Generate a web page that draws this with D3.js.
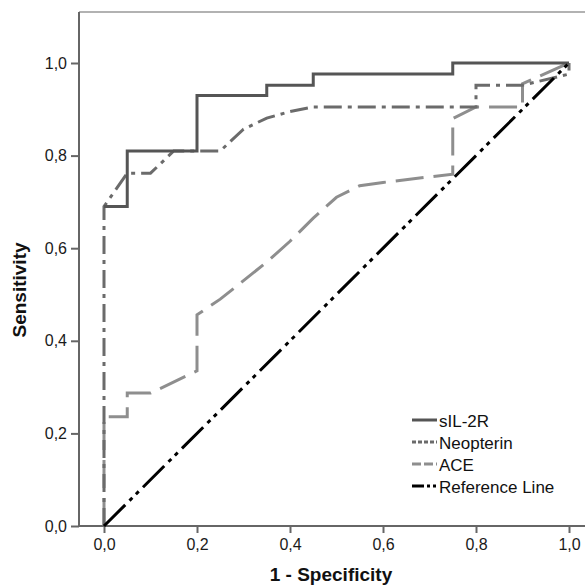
<!DOCTYPE html>
<html><head><meta charset="utf-8">
<script src="https://cdn.jsdelivr.net/npm/d3@7"></script>
<style>body{margin:0;background:#fff}svg{display:block}text{font-family:"Liberation Sans",Arial,sans-serif}</style>
</head><body><svg id="c" width="585" height="586"></svg>
<script>
const tickValues = [0, 0.2, 0.4, 0.6, 0.8, 1.0];
const seriesNames = ["sIL-2R", "Neopterin", "ACE", "Reference Line"];
const sIL2R_x = [0, 0.05, 0.05, 0.2, 0.2, 0.35, 0.35, 0.45, 0.45, 0.75, 0.75, 1.0];
const sIL2R_y = [0.69, 0.69, 0.81, 0.81, 0.93, 0.93, 0.952, 0.952, 0.976, 0.976, 1.0, 1.0];
const neo_x = [0, 0, 0.05, 0.1, 0.15, 0.25, 0.3, 0.35, 0.4, 0.45, 0.8, 0.8, 0.9, 1.0, 1.0];
const neo_y = [0, 0.69, 0.762, 0.762, 0.81, 0.81, 0.857, 0.881, 0.895, 0.905, 0.905, 0.952, 0.952, 0.976, 1.0];
const ace_x = [0, 0, 0.05, 0.05, 0.1, 0.2, 0.2, 0.25, 0.3, 0.35, 0.4, 0.45, 0.5, 0.55, 0.6, 0.75, 0.75, 0.8, 0.9, 0.9, 1.0];
const ace_y = [0, 0.236, 0.236, 0.287, 0.287, 0.335, 0.456, 0.49, 0.53, 0.57, 0.615, 0.665, 0.71, 0.735, 0.742, 0.76, 0.88, 0.905, 0.905, 0.955, 1.0];
const ref_x = [0, 1];
const ref_y = [0, 1];

const svg = d3.select("#c");
const x = d3.scaleLinear().domain([0, 1]).range([104, 569]);
const y = d3.scaleLinear().domain([0, 1]).range([526, 63]);
const fmt = v => d3.format(".1f")(v).replace(".", ",");
const frameL = 79, frameT = 12, frameR = 585, frameB = 526;

// frame
svg.append("line").attr("x1", frameL).attr("x2", frameR).attr("y1", frameT).attr("y2", frameT)
  .attr("stroke", "#999").attr("stroke-width", 1.5);
svg.append("line").attr("x1", frameL).attr("x2", frameL).attr("y1", frameT).attr("y2", frameB)
  .attr("stroke", "#666").attr("stroke-width", 2);
svg.append("line").attr("x1", frameL).attr("x2", frameR).attr("y1", frameB).attr("y2", frameB)
  .attr("stroke", "#666").attr("stroke-width", 2);

// axes
const gx = svg.append("g").attr("transform", `translate(0,${frameB})`)
  .call(d3.axisBottom(x).tickValues(tickValues).tickFormat(fmt).tickSize(7).tickPadding(6));
const gy = svg.append("g").attr("transform", `translate(${frameL},0)`)
  .call(d3.axisLeft(y).tickValues(tickValues).tickFormat(fmt).tickSize(8).tickPadding(4));
[gx, gy].forEach(g => {
  g.select(".domain").remove();
  g.selectAll(".tick line").attr("stroke", "#666").attr("stroke-width", 2);
  g.selectAll(".tick text").attr("fill", "#1a1a1a").style("font-size", "16px").style("font-family", '"Liberation Sans",Arial,sans-serif');
});

// titles
svg.append("text").attr("x", 331).attr("y", 581).attr("text-anchor", "middle")
  .style("font-size", "19px").style("font-weight", "bold").attr("fill", "#111").text("1 - Specificity");
svg.append("text").attr("transform", "translate(26,290) rotate(-90)").attr("text-anchor", "middle")
  .style("font-size", "19px").style("font-weight", "bold").attr("fill", "#111").text("Sensitivity");

// curves
const line = d3.line().x(d => x(d[0])).y(d => y(d[1]));
const zip = (a, b) => a.map((v, i) => [v, b[i]]);
const series = [
  {name: "ACE", pts: zip(ace_x, ace_y), color: "#8e8e8e", dash: "28,10", ldash: "9,3"},
  {name: "Neopterin", pts: zip(neo_x, neo_y), color: "#6b6b6b", dash: "18,6,4,6", ldash: "4,2"},
  {name: "sIL-2R", pts: zip(sIL2R_x, sIL2R_y), color: "#555", dash: null, ldash: null},
  {name: "Reference Line", pts: zip(ref_x, ref_y), color: "#000", dash: "30,6,4,5,4,6", ldash: "12,3,3,3,3"}
];
series.forEach(s => {
  svg.append("path").datum(s.pts).attr("d", line).attr("fill", "none")
    .attr("stroke", s.color).attr("stroke-width", 3).attr("stroke-linejoin", "miter")
    .attr("stroke-dasharray", s.dash);
});

// legend
const lg = svg.append("g");
seriesNames.forEach((n, i) => {
  const s = series.find(t => t.name === n);
  const yy = 420 + i * 22;
  lg.append("line").attr("x1", 412).attr("x2", 437).attr("y1", yy).attr("y2", yy)
    .attr("stroke", s.color).attr("stroke-width", 3).attr("stroke-dasharray", s.ldash);
  lg.append("text").attr("x", 439).attr("y", yy + 7).style("font-size", "17px").attr("fill", "#111").text(n);
});
</script></body></html>
